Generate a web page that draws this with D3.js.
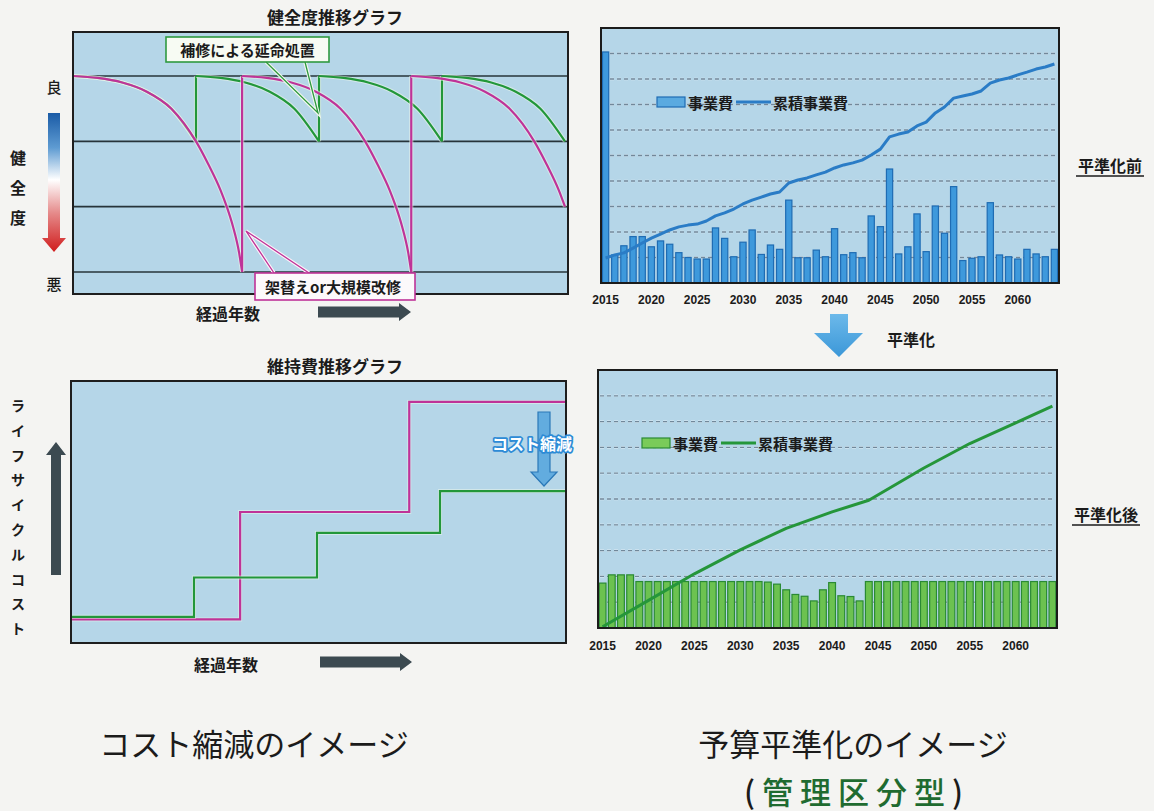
<!DOCTYPE html>
<html><head><meta charset="utf-8">
<script src="https://cdn.jsdelivr.net/npm/d3@7"></script>
<style>
html,body{margin:0;padding:0;background:#f4f4f2;}
svg{display:block;}
text{font-family:"Noto Sans CJK JP","Noto Sans",sans-serif;fill:#1b1b1b;}
</style></head><body>
<svg id="c" width="1154" height="811"></svg>
<script>
// ================= DATA =================
// 健全度推移グラフ (conceptual deterioration profile)
const healthLevels = [4, 3, 2, 1];
const deteriorationAge    = [0, 2, 4, 6, 8, 10, 11, 12, 12.5, 13, 13.5, 13.75];
const deteriorationHealth = [4.0, 3.97, 3.9, 3.76, 3.5, 3.0, 2.65, 2.25, 2.0, 1.7, 1.3, 1.0];
const repairYears  = [0, 10, 20, 30];      // green: 補修 cycles start
const renewalYears = [0, 13.75, 27.5];     // magenta: 架替え cycles start
const elapsedEnd = 40;
// 維持費推移グラフ
const repairCostLevels  = [10, 25, 42, 58];
const renewalCostLevels = [9, 50, 92];
// 予算平準化
const years = d3.range(2015, 2065);
const tickYears = [2015, 2020, 2025, 2030, 2035, 2040, 2045, 2050, 2055, 2060];
const costBefore = [
  9.06,1.1,1.46,1.82,1.82,1.42,1.65,1.52,1.19,1.0,
  0.94,0.94,2.16,1.75,1.03,1.6,2.08,1.12,1.49,1.32,
  3.25,0.99,0.99,1.29,1.03,2.13,1.11,1.19,0.99,2.63,
  2.21,4.47,1.14,1.42,2.71,1.23,3.02,1.95,3.78,0.88,
  0.97,1.03,3.15,1.1,1.03,0.94,1.32,1.14,1.03,1.32];
const cumulativeBefore = [
  0.98,1.1,1.18,1.37,1.57,1.76,1.92,2.08,2.2,2.27,
  2.31,2.43,2.63,2.75,2.9,3.1,3.25,3.37,3.49,3.57,
  3.92,4.04,4.12,4.24,4.35,4.51,4.63,4.71,4.82,5.02,
  5.25,5.73,5.84,5.92,6.16,6.31,6.67,6.9,7.25,7.33,
  7.41,7.53,7.84,7.96,8.04,8.16,8.27,8.39,8.47,8.59];
const costAfter = [
  1.74,2.06,2.06,2.06,1.8,1.8,1.8,1.8,1.8,1.8,
  1.8,1.8,1.8,1.8,1.8,1.8,1.8,1.8,1.78,1.7,
  1.48,1.3,1.23,1.05,1.48,1.76,1.25,1.22,1.05,1.8,
  1.8,1.8,1.8,1.8,1.8,1.8,1.8,1.8,1.8,1.8,
  1.8,1.8,1.8,1.8,1.8,1.8,1.8,1.8,1.8,1.8];
const cumulativeAfterYears = [2015, 2020, 2025, 2030, 2035, 2040, 2044, 2050, 2055, 2060, 2064];
const cumulativeAfter      = [0.05, 1.07, 2.1, 3.03, 3.86, 4.5, 4.95, 6.2, 7.15, 7.95, 8.6];
const gridValues = [1,2,3,4,5,6,7,8,9];

// ================= STYLE =================
const PLOT_BG = '#b5d6e8';
const GREEN = '#22973a', MAGENTA = '#bf3398', DARK = '#3c4a51';
const svg = d3.select('#c');
const defs = svg.append('defs');

function txt(x, y, s, o = {}) {
  const t = svg.append('text').attr('x', x).attr('y', y).text(s)
    .attr('text-anchor', o.anchor || 'middle')
    .attr('dominant-baseline', 'central')
    .attr('font-size', o.size || 16)
    .attr('font-weight', o.weight || 700);
  if (o.fill) t.style('fill', o.fill);
  if (o.ls) t.attr('letter-spacing', o.ls);
  if (o.family) t.style('font-family', o.family);
  return t;
}
function poly(pts, fill, stroke, sw) {
  return svg.append('polygon').attr('points', pts.map(p => p.join(',')).join(' '))
    .attr('fill', fill).attr('stroke', stroke || 'none').attr('stroke-width', sw || 0);
}
function rightArrow(x0, x1, y) {
  poly([[x0, y - 5.5], [x1 - 12, y - 5.5], [x1 - 12, y - 9], [x1, y], [x1 - 12, y + 9], [x1 - 12, y + 5.5], [x0, y + 5.5]], DARK);
}

// ================= TOP-LEFT: 健全度推移グラフ =================
const xH = d3.scaleLinear().domain([0, elapsedEnd]).range([73, 565]);
const yH = d3.scaleLinear().domain([1, 4]).range([272, 76]);
const TL = {l: 73, r: 568, t: 32, b: 294};
svg.append('rect').attr('x', TL.l).attr('y', TL.t).attr('width', TL.r - TL.l).attr('height', TL.b - TL.t)
  .attr('fill', PLOT_BG);
healthLevels.forEach(h => {
  svg.append('line').attr('x1', TL.l).attr('x2', TL.r).attr('y1', yH(h)).attr('y2', yH(h))
    .attr('stroke', '#27343a').attr('stroke-width', 1.6);
});
const profile = deteriorationAge.map((a, i) => [a, deteriorationHealth[i]]);
const curveLine = d3.line().x(d => xH(d[0])).y(d => yH(d[1])).curve(d3.curveMonotoneX);

function drawCycles(starts, color) {
  const g = svg.append('g');
  starts.forEach((s, i) => {
    const e = i < starts.length - 1 ? starts[i + 1] : elapsedEnd;
    const len = e - s;
    const pts = profile.filter(p => p[0] <= len + 1e-9).map(p => [s + p[0], p[1]]);
    const endHealth = pts[pts.length - 1][1];
    [['#eef8ea', 4.2, 0.55], [color, 2.2, 1]].forEach(([c, w, op]) => {
      g.append('path').attr('d', curveLine(pts)).attr('fill', 'none')
        .attr('stroke', c).attr('stroke-width', w).attr('stroke-opacity', op);
      if (i < starts.length - 1) {
        g.append('line').attr('x1', xH(e)).attr('x2', xH(e)).attr('y1', yH(endHealth)).attr('y2', yH(4))
          .attr('stroke', c).attr('stroke-width', w).attr('stroke-opacity', op);
      }
    });
  });
}
drawCycles(repairYears, GREEN);
drawCycles(renewalYears, MAGENTA);
svg.append('rect').attr('x', TL.l).attr('y', TL.t).attr('width', TL.r - TL.l).attr('height', TL.b - TL.t)
  .attr('fill', 'none').attr('stroke', '#1e1e1e').attr('stroke-width', 2);

// callout: 補修による延命処置
svg.append('polyline').attr('points', '266,62 318,113 305,62').attr('fill', 'none')
  .attr('stroke', '#f2f8ee').attr('stroke-width', 3.5);
svg.append('polyline').attr('points', '266,62 318,113 305,62').attr('fill', 'none')
  .attr('stroke', '#2f9a40').attr('stroke-width', 1.3);
svg.append('rect').attr('x', 166).attr('y', 37).attr('width', 163).attr('height', 25)
  .attr('fill', '#f7fbf3').attr('stroke', '#2f9a40').attr('stroke-width', 1.6);
txt(247.5, 49.5, '補修による延命処置', {size: 15});

// callout: 架替えor大規模改修
svg.append('polyline').attr('points', '274,273 246,231 309,273').attr('fill', 'none')
  .attr('stroke', '#fbf3f8').attr('stroke-width', 3.5);
svg.append('polyline').attr('points', '274,273 246,231 309,273').attr('fill', 'none')
  .attr('stroke', MAGENTA).attr('stroke-width', 1.3);
svg.append('rect').attr('x', 255).attr('y', 273).attr('width', 160).attr('height', 27)
  .attr('fill', '#fcf9fb').attr('stroke', MAGENTA).attr('stroke-width', 1.6);
txt(333, 286.5, '架替えor大規模改修', {size: 15});

txt(335, 16, '健全度推移グラフ', {size: 17});
txt(54, 86, '良', {size: 15, weight: 500});
txt(54, 283, '悪', {size: 15, weight: 500});
['健', '全', '度'].forEach((c, i) => txt(18, 157 + i * 30, c, {size: 16}));
const grad = defs.append('linearGradient').attr('id', 'hg').attr('x1', 0).attr('x2', 0).attr('y1', 0).attr('y2', 1);
[[0, '#1a5ba6'], [0.25, '#5e9bd2'], [0.48, '#ffffff'], [0.72, '#e58a8a'], [1, '#d01c1c']]
  .forEach(([o, c]) => grad.append('stop').attr('offset', o).attr('stop-color', c));
poly([[48, 113], [60, 113], [60, 238], [66, 238], [54, 252], [42, 238], [48, 238]], 'url(#hg)');
txt(228, 313, '経過年数', {size: 16});
rightArrow(318, 411, 312);

// ================= BOTTOM-LEFT: 維持費推移グラフ =================
const xC = d3.scaleLinear().domain([0, elapsedEnd]).range([71, 563]);
const yC = d3.scaleLinear().domain([0, 100]).range([643, 381]);
const BL = {l: 71, r: 566, t: 381, b: 643};
svg.append('rect').attr('x', BL.l).attr('y', BL.t).attr('width', BL.r - BL.l).attr('height', BL.b - BL.t)
  .attr('fill', PLOT_BG);
const stepLine = d3.line().x(d => xC(d[0])).y(d => yC(d[1])).curve(d3.curveStepAfter);
const xEndC = xC.invert(BL.r - 1);
const renewPts = renewalYears.map((y, i) => [y, renewalCostLevels[i]]);
renewPts.push([xEndC, renewalCostLevels[renewalCostLevels.length - 1]]);
const repairPts = repairYears.map((y, i) => [y, repairCostLevels[i]]);
repairPts.push([xEndC, repairCostLevels[repairCostLevels.length - 1]]);
[[renewPts, MAGENTA], [repairPts, GREEN]].forEach(([pts, c]) => {
  svg.append('path').attr('d', stepLine(pts)).attr('fill', 'none').attr('stroke', '#eef8ea')
    .attr('stroke-width', 4).attr('stroke-opacity', 0.5);
  svg.append('path').attr('d', stepLine(pts)).attr('fill', 'none').attr('stroke', c).attr('stroke-width', 2.2);
});
svg.append('rect').attr('x', BL.l).attr('y', BL.t).attr('width', BL.r - BL.l).attr('height', BL.b - BL.t)
  .attr('fill', 'none').attr('stroke', '#1e1e1e').attr('stroke-width', 2);
txt(335, 365, '維持費推移グラフ', {size: 17});
'ライフサイクルコスト'.split('').forEach((c, i) => txt(18, 405 + i * 24.8, c, {size: 14}));
poly([[51, 575], [51, 455], [46, 455], [56, 442], [66, 455], [61, 455], [61, 575]], DARK);
txt(226, 664, '経過年数', {size: 16});
rightArrow(320, 412, 662);
// コスト縮減 arrow + label
poly([[538, 412], [550, 412], [550, 472], [557, 472], [544, 486], [531, 472], [538, 472]], '#62acdf', '#2a78b8', 1.2);
txt(492, 443, 'コスト縮減', {size: 16, anchor: 'start'})
  .style('fill', '#ffffff').attr('stroke', '#2d8bd6').attr('stroke-width', 3.5)
  .attr('paint-order', 'stroke').attr('stroke-linejoin', 'round');

// ================= BAR CHARTS =================
function barChart(o) {
  const x = d3.scaleBand().domain(years).range([o.l, o.r]).paddingInner(o.pad).paddingOuter(o.pad / 2);
  const y = d3.scaleLinear().domain([0, 10]).range([o.b, o.t]);
  svg.append('rect').attr('x', o.l).attr('y', o.t).attr('width', o.r - o.l).attr('height', o.b - o.t)
    .attr('fill', PLOT_BG);
  gridValues.forEach(v => {
    svg.append('line').attr('x1', o.l + 2).attr('x2', o.r - 4).attr('y1', y(v)).attr('y2', y(v))
      .attr('stroke', '#e6f0f6').attr('stroke-width', 2.6).attr('stroke-dasharray', '4,3').attr('stroke-opacity', 0.6);
    svg.append('line').attr('x1', o.l + 2).attr('x2', o.r - 4).attr('y1', y(v)).attr('y2', y(v))
      .attr('stroke', '#71889a').attr('stroke-width', 1.3).attr('stroke-dasharray', '4,3');
  });
  svg.append('g').selectAll('rect').data(o.bars).join('rect')
    .attr('x', (d, i) => x(years[i])).attr('width', x.bandwidth())
    .attr('y', d => y(d)).attr('height', d => o.b - y(d))
    .attr('fill', o.barFill).attr('stroke', o.barStroke).attr('stroke-width', 1.2);
  const line = d3.line().x(d => x(d[0]) + x.bandwidth() / 2).y(d => y(d[1]));
  svg.append('path').attr('d', line(o.line)).attr('fill', 'none').attr('stroke', o.lineColor)
    .attr('stroke-width', 3).attr('stroke-linejoin', 'round');
  svg.append('rect').attr('x', o.l).attr('y', o.t).attr('width', o.r - o.l).attr('height', o.b - o.t)
    .attr('fill', 'none').attr('stroke', '#1b1b1b').attr('stroke-width', 2);
  const ax = svg.append('g').attr('transform', `translate(0,${o.b})`)
    .call(d3.axisBottom(x).tickValues(tickYears).tickSize(0).tickPadding(0));
  ax.select('.domain').remove();
  ax.selectAll('text').attr('y', o.tickY - o.b).attr('dy', '0.35em').attr('font-size', 12).attr('font-weight', 700)
    .style('font-family', '"Liberation Sans", Arial, sans-serif').style('fill', '#1b1b1b');
  // legend
  const ly = o.legY, lx = o.legX;
  svg.append('rect').attr('x', lx).attr('y', ly - 5).attr('width', 28).attr('height', 10)
    .attr('fill', o.legFill).attr('stroke', o.barStroke).attr('stroke-width', 1.2);
  txt(lx + 31, ly, '事業費', {size: 15, anchor: 'start'});
  svg.append('line').attr('x1', lx + 79).attr('x2', lx + 114).attr('y1', ly).attr('y2', ly)
    .attr('stroke', o.lineColor).attr('stroke-width', 3);
  txt(lx + 116, ly, '累積事業費', {size: 15, anchor: 'start'});
  // side label
  txt(o.labX, o.labY, o.label, {size: 16});
  svg.append('line').attr('x1', o.labX - 34).attr('x2', o.labX + 34).attr('y1', o.labY + 11).attr('y2', o.labY + 11)
    .attr('stroke', '#1b1b1b').attr('stroke-width', 1.5);
}

barChart({l: 601, r: 1059, t: 28, b: 283, pad: 0.32, bars: costBefore,
  line: years.map((yr, i) => [yr, cumulativeBefore[i]]),
  barFill: '#3e99dc', barStroke: '#1f6cb3', legFill: '#5aaae0', lineColor: '#2a7cc6',
  tickY: 300, legX: 657, legY: 102, label: '平準化前', labX: 1110, labY: 165});

barChart({l: 598, r: 1057, t: 370, b: 628, pad: 0.26, bars: costAfter,
  line: cumulativeAfterYears.map((yr, i) => [yr, cumulativeAfter[i]]),
  barFill: '#6cc250', barStroke: '#2a8a34', legFill: '#7acb5a', lineColor: '#25963a',
  tickY: 646, legX: 642, legY: 443, label: '平準化後', labX: 1106, labY: 514});

// 平準化 arrow
const bg = defs.append('linearGradient').attr('id', 'bg').attr('x1', 0).attr('x2', 0).attr('y1', 0).attr('y2', 1);
bg.append('stop').attr('offset', 0).attr('stop-color', '#6cb9ea');
bg.append('stop').attr('offset', 1).attr('stop-color', '#3b97d8');
poly([[830, 314], [848, 314], [848, 333], [863, 333], [839, 357], [814, 333], [830, 333]], 'url(#bg)');
txt(911, 339, '平準化', {size: 16});

// ================= CAPTIONS =================
txt(254, 742, 'コスト縮減のイメージ', {size: 31, weight: 400});
txt(853, 742, '予算平準化のイメージ', {size: 31, weight: 400});
const cap = svg.append('text').attr('x', 857).attr('y', 790).attr('text-anchor', 'middle')
  .attr('dominant-baseline', 'central').attr('font-size', 31).attr('font-weight', 500).attr('letter-spacing', 7);
cap.append('tspan').text('(');
cap.append('tspan').text('管理区分型').style('fill', '#1f6b30');
cap.append('tspan').text(')');
</script></body></html>
